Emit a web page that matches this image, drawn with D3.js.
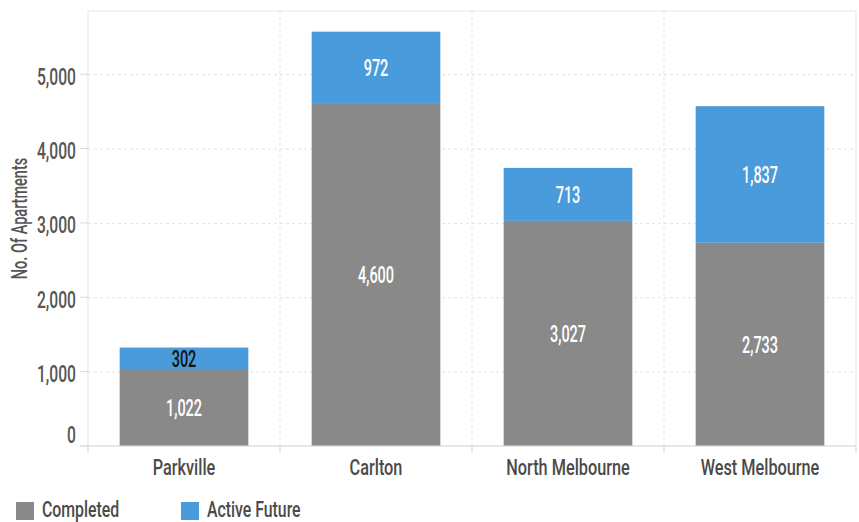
<!DOCTYPE html>
<html>
<head>
<meta charset="utf-8">
<script src="https://cdn.jsdelivr.net/npm/d3@7"></script>
<style>
  body { margin: 0; background: #fff; }
  svg text { font-family: Roboto, "DejaVu Sans Condensed", sans-serif; font-weight: 500; }
  .grid line { stroke: #e3e3e3; stroke-dasharray: 3,3; }
  .grid .domain { display: none; }
</style>
</head>
<body>
<div id="chart"></div>
<script>
const suburbs = ['Parkville', 'Carlton', 'North Melbourne', 'West Melbourne'];
const completed = [1022, 4600, 3027, 2733];
const activeFuture = [302, 972, 713, 1837];
const yTicks = [0, 1000, 2000, 3000, 4000, 5000];
const seriesNames = ['Completed', 'Active Future'];
const seriesColors = ['#898989', '#4a9bdb'];

const W = 859, H = 522;
const margin = { top: 11, right: 3, bottom: 76, left: 88 };
const width = W - margin.left - margin.right;
const height = H - margin.top - margin.bottom;

// put a text at (px,py) and squeeze it horizontally (reference uses a condensed face)
function place(sel, px, py, sq, rot) {
  sel.attr('transform', (d, i) => {
    const a = typeof px === 'function' ? px(d, i) : px;
    const b = typeof py === 'function' ? py(d, i) : py;
    return `translate(${a},${b})` + (rot ? ` rotate(${rot})` : '') + ` scale(${sq},1)`;
  });
  return sel;
}

const svg = d3.select('#chart').append('svg')
  .attr('width', W).attr('height', H);

const g = svg.append('g')
  .attr('transform', `translate(${margin.left},${margin.top})`);

const x = d3.scaleBand().domain(suburbs).range([0, width]).paddingInner(0.33).paddingOuter(0.165);
const xGrid = d3.scaleBand().domain(suburbs).range([0, width]);
const y = d3.scaleLinear().domain([0, 5850]).range([height, 0]);

// plot frame
g.append('rect')
  .attr('width', width).attr('height', height)
  .attr('fill', 'none').attr('stroke', '#e6e6e6');

// horizontal grid
g.append('g').attr('class', 'grid')
  .call(d3.axisLeft(y).tickValues(yTicks.slice(1)).tickSize(-width).tickFormat(''));

// vertical grid at band boundaries
g.append('g').attr('class', 'grid')
  .selectAll('line').data(suburbs.slice(1))
  .join('line')
  .attr('x1', d => xGrid(d)).attr('x2', d => xGrid(d))
  .attr('y1', 0).attr('y2', height);

// stacked data
const rows = suburbs.map((s, i) => ({ suburb: s, Completed: completed[i], 'Active Future': activeFuture[i] }));
const stack = d3.stack().keys(seriesNames)(rows);

const layer = g.selectAll('.layer').data(stack).join('g')
  .attr('class', 'layer')
  .attr('fill', (d, i) => seriesColors[i]);

layer.selectAll('rect').data(d => d).join('rect')
  .attr('x', d => x(d.data.suburb))
  .attr('width', x.bandwidth())
  .attr('y', d => y(d[1]))
  .attr('height', d => y(d[0]) - y(d[1]));

place(layer.selectAll('text').data(d => d).join('text'),
    d => x(d.data.suburb) + x.bandwidth() / 2,
    d => (y(d[0]) + y(d[1])) / 2, 0.63)
  .attr('dy', '0.36em')
  .attr('text-anchor', 'middle')
  .attr('font-size', 23)
  .attr('fill', d => (d[1] - d[0]) < 400 ? '#111' : '#fff')
  .text(d => d3.format(',')(d[1] - d[0]));

// x axis
const xAxisG = g.append('g')
  .attr('transform', `translate(0,${height})`);
xAxisG.append('line')
  .attr('x1', -8).attr('x2', width).attr('stroke', '#d9d9d9');
xAxisG.selectAll('.tk').data(suburbs.concat(['end']))
  .join('line')
  .attr('x1', (d, i) => i * xGrid.bandwidth()).attr('x2', (d, i) => i * xGrid.bandwidth())
  .attr('y1', 0).attr('y2', 7).attr('stroke', '#d9d9d9');
place(xAxisG.selectAll('text').data(suburbs).join('text'),
    d => x(d) + x.bandwidth() / 2, 29, 0.74)
  .attr('text-anchor', 'middle')
  .attr('font-size', 22)
  .attr('fill', '#4a4a4a')
  .text(d => d);

// y axis
const yAxisG = g.append('g');
yAxisG.selectAll('line').data(yTicks).join('line')
  .attr('x1', -8).attr('x2', 0)
  .attr('y1', d => y(d)).attr('y2', d => y(d))
  .attr('stroke', '#d9d9d9');
place(yAxisG.selectAll('text').data(yTicks).join('text'),
    -12, d => y(d) + (d === 0 ? -11 : 2), 0.68)
  .attr('dy', '0.36em')
  .attr('text-anchor', 'end')
  .attr('font-size', 23)
  .attr('fill', '#555')
  .text(d => d3.format(',')(d));

place(svg.append('text'), 27, margin.top + height / 2 - 10, 0.66, -90)
  .attr('text-anchor', 'middle')
  .attr('font-size', 22)
  .attr('fill', '#555')
  .text('No. Of Apartments');

// legend
const legendX = [16, 181];
const legend = svg.selectAll('.legend').data(seriesNames).join('g')
  .attr('class', 'legend')
  .attr('transform', (d, i) => `translate(${legendX[i]},502)`);
legend.append('rect')
  .attr('width', 18).attr('height', 18)
  .attr('fill', (d, i) => seriesColors[i]);
place(legend.append('text'), 26, 7, 0.72)
  .attr('dy', '0.36em')
  .attr('font-size', 22)
  .attr('fill', '#4a4a4a')
  .text(d => d);
</script>
</body>
</html>
